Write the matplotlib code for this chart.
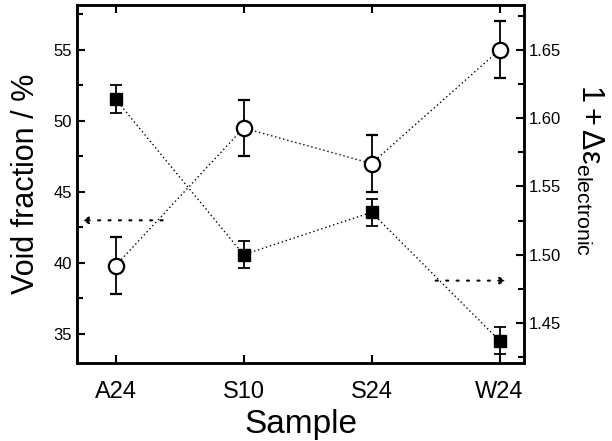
import matplotlib
matplotlib.use('Agg')
import matplotlib.pyplot as plt
from matplotlib.ticker import MultipleLocator

plt.rcParams['font.family'] = ['Liberation Sans', 'DejaVu Sans']
plt.rcParams['mathtext.fontset'] = 'custom'
plt.rcParams['mathtext.rm'] = 'Liberation Sans'
plt.rcParams['mathtext.it'] = 'Liberation Sans:italic'

# data
samples = ['A24', 'S10', 'S24', 'W24']
void_fraction = [39.8, 49.5, 47.0, 55.0]
void_err = [2.0, 2.0, 2.0, 2.0]
eps_electronic = [1.614, 1.500, 1.531, 1.437]
eps_err = [0.01, 0.01, 0.01, 0.01]

x = list(range(len(samples)))

fig = plt.figure(figsize=(6.12, 4.41), dpi=100)
ax = fig.add_axes([0.126, 0.177, 0.730, 0.812])
ax2 = ax.twinx()

# void fraction: open circles, left axis
ax.plot(x, void_fraction, color='black', linestyle=(0, (1, 2)), linewidth=1)
ax.errorbar(x, void_fraction, yerr=void_err, fmt='o', color='black',
            markerfacecolor='white', markeredgecolor='black', markersize=11,
            markeredgewidth=1.6, elinewidth=1.3, capsize=4.5, capthick=1.3, zorder=3)

# 1 + delta eps: filled squares, right axis
ax2.plot(x, eps_electronic, color='black', linestyle=(0, (1, 2)), linewidth=1)
ax2.errorbar(x, eps_electronic, yerr=eps_err, fmt='s', color='black',
             markersize=8, elinewidth=1.3, capsize=4.5, capthick=1.3, zorder=3)

# arrows pointing to the axis of each series
ax.annotate('', xy=(-0.29, 43.0), xytext=(0.39, 43.0),
            arrowprops=dict(arrowstyle='-|>', color='black', linewidth=1.5,
                            linestyle=(0, (1, 4)), mutation_scale=10))
ax2.annotate('', xy=(3.08, 1.481), xytext=(2.48, 1.481),
             arrowprops=dict(arrowstyle='-|>', color='black', linewidth=1.5,
                             linestyle=(0, (1, 4)), mutation_scale=10))

ax.set_xlim(-0.3, 3.19)
ax.set_ylim(32.96, 58.17)
ax2.set_ylim(1.4207, 1.683)

ax.set_xticks(x)
ax.set_xticklabels(samples, fontsize=17)
ax.yaxis.set_major_locator(MultipleLocator(5))
ax.yaxis.set_minor_locator(MultipleLocator(2.5))
ax2.yaxis.set_major_locator(MultipleLocator(0.05))
ax2.yaxis.set_minor_locator(MultipleLocator(0.025))
ax2.yaxis.set_major_formatter(plt.FormatStrFormatter('%.2f'))

ax.tick_params(axis='x', direction='in', top=True, length=6, width=1.5, pad=13)
ax.tick_params(axis='y', which='both', direction='in', labelsize=12, width=1.5)
ax.tick_params(axis='y', which='major', length=6)
ax.tick_params(axis='y', which='minor', length=4)
ax2.tick_params(axis='y', which='both', direction='in', labelsize=12, width=1.5)
ax2.tick_params(axis='y', which='major', length=6)
ax2.tick_params(axis='y', which='minor', length=4)

for a in (ax, ax2):
    for s in a.spines.values():
        s.set_linewidth(1.8)

ax.set_xlabel('Sample', fontsize=24, labelpad=4)
ax.set_ylabel('Void fraction / %', fontsize=22, labelpad=9)
ax2.set_ylabel(r'$\mathrm{1+\Delta\varepsilon_{electronic}}$', fontsize=22,
               rotation=270, ha='center', va='center')
ax2.yaxis.set_label_coords(1.148, 0.54)

fig.savefig('out.png', dpi=100)
